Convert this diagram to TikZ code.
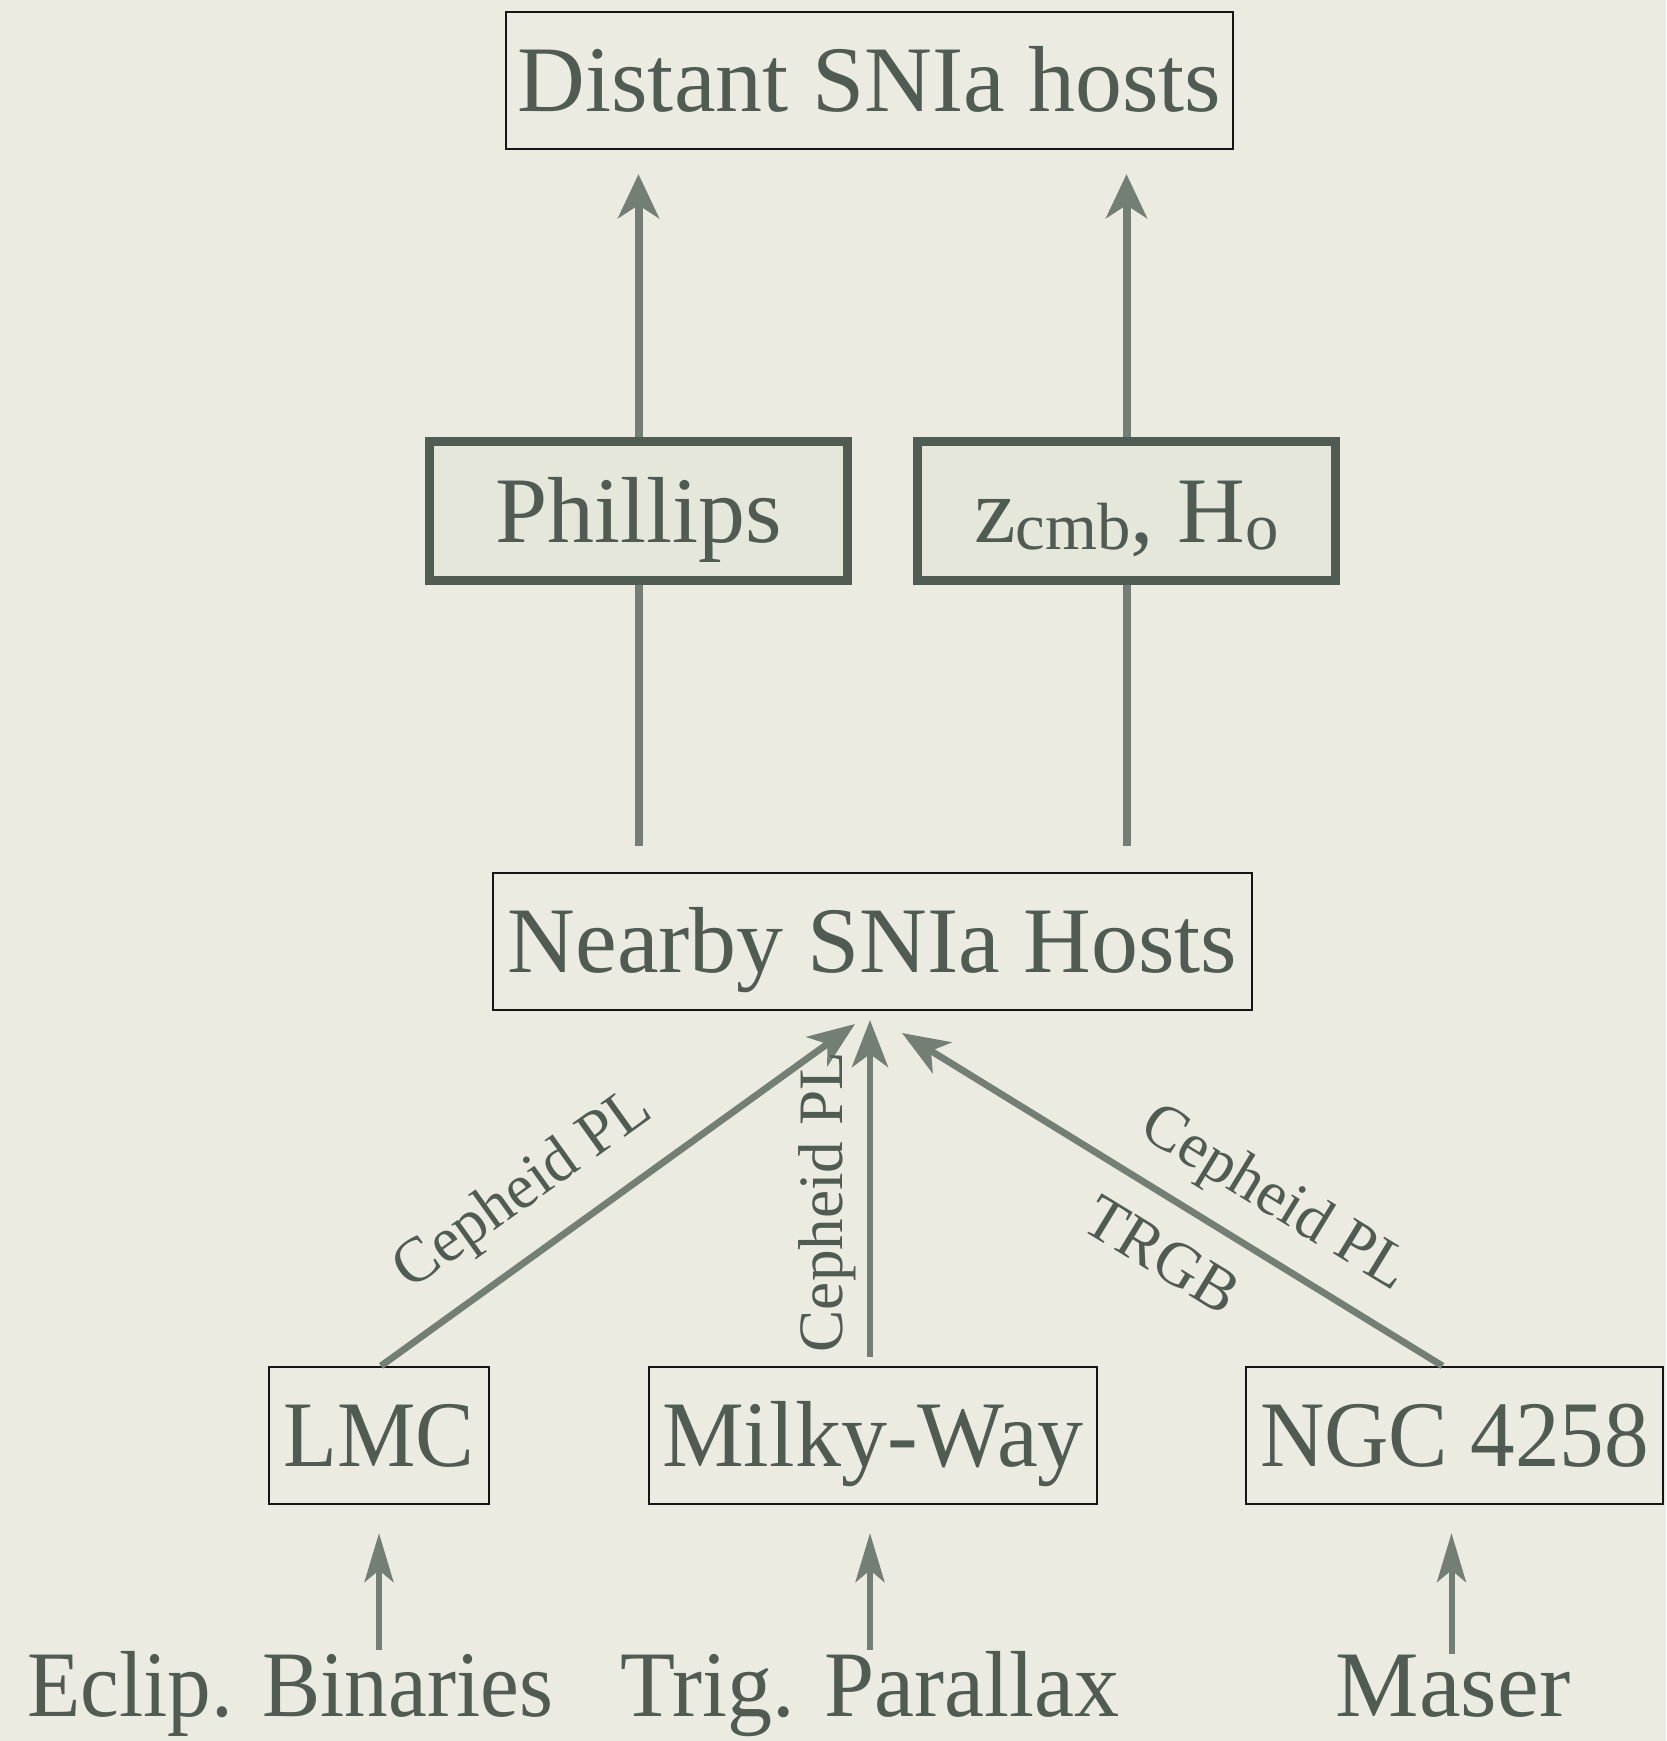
\documentclass[tikz,border=0pt]{standalone}
\usepackage{fontspec}
\setmainfont{Liberation Serif}
\usetikzlibrary{arrows.meta,calc}
\definecolor{bgc}{HTML}{ECEBE1}
\definecolor{txt}{HTML}{505C53}
\definecolor{arrc}{HTML}{737E74}
\definecolor{pfill}{HTML}{E6E7DB}
\definecolor{thinc}{HTML}{151515}
\begin{document}
\begin{tikzpicture}[x=0.1mm,y=-0.1mm,
  big/.style={font=\fontsize{26.7}{30}\selectfont, text=txt, text height=17.7pt, text depth=0pt},
  plainbox/.style={big, draw=thinc, line width=0.22mm, minimum height=13.7mm, inner sep=0pt},
  thickbox/.style={big, draw=txt, fill=pfill, line width=0.9mm, minimum width=41.8mm, minimum height=13.9mm, inner sep=0pt},
  lbl/.style={font=\fontsize{18}{20}\selectfont, text=txt, inner sep=0pt},
  bottxt/.style={font=\fontsize{26.7}{30}\selectfont, text=txt, inner sep=0pt, anchor=base},
  toparr/.style={draw=arrc, line width=0.8mm, -{Stealth[length=4.4mm,width=4.1mm,inset=1.3mm]}},
  topline/.style={draw=arrc, line width=0.8mm},
  midarr/.style={draw=arrc, line width=0.68mm, -{Stealth[length=4.7mm,width=3.6mm,inset=1.3mm]}},
  botarr/.style={draw=arrc, line width=0.6mm, -{Stealth[length=4.9mm,width=2.9mm,inset=1.2mm]}},
]
\useasboundingbox (0,0) rectangle (1666,1741);
\fill[bgc] (0,0) rectangle (1666,1741);

% boxes
\node[plainbox, minimum width=72.7mm] (dist) at (869.5,80.5) {Distant SNIa hosts};
\node[thickbox] (phil) at (638.5,511) {Phillips};
\node[thickbox] (zcmb) at (1126.5,511) {z\raisebox{-2.2pt}{\fontsize{19}{20}\selectfont cmb}, H\raisebox{-2.2pt}{\fontsize{19}{20}\selectfont o}};
\node[plainbox, minimum width=75.9mm] (near) at (872.5,941.5) {Nearby SNIa Hosts};
\node[plainbox, minimum width=22mm] (lmc) at (379,1435.5) {\scalebox{0.94}[1]{LMC}};
\node[plainbox, minimum width=44.8mm] (mw) at (873,1435.5) {\scalebox{0.98}[1]{Milky-Way}};
\node[plainbox, minimum width=41.7mm] (ngc) at (1454.5,1435.5) {\scalebox{0.95}[1]{NGC 4258}};

% bottom labels
\node[bottxt, xscale=0.93] (eb) at (290,1716) {Eclip. Binaries};
\node[bottxt, xscale=0.96] (tp) at (870,1716) {Trig. Parallax};
\node[bottxt] (ms) at (1453,1716) {Maser};

% top connectors
\draw[topline, shorten <=2.6mm] (phil.south |- near.north) -- (phil.south);
\draw[topline, shorten <=2.6mm] (zcmb.south |- near.north) -- (zcmb.south);
\draw[toparr, shorten >=2.4mm] (phil.north) -- (phil.north |- dist.south);
\draw[toparr, shorten >=2.4mm] (zcmb.north) -- (zcmb.north |- dist.south);

% middle connectors
\coordinate (tipL) at (855,1024);
\coordinate (tipM) at (870,1020);
\coordinate (tipR) at (902,1033);
\draw[midarr] ([xshift=0.2mm]lmc.north) -- (tipL);
\draw[midarr, shorten <=0.9mm] (tipM |- mw.north) -- (tipM);
\draw[midarr] ([xshift=-1.2mm]ngc.north) -- (tipR);

% edge labels
\node[lbl, rotate=35.6] (l1) at (524,1191) {Cepheid PL};
\node[lbl, rotate=90] (l2) at (827,1202) {Cepheid PL};
\node[lbl, rotate=-31.4] (l3) at (1274,1200) {Cepheid PL};
\node[lbl, rotate=-31.4] (l4) at (1162,1255) {TRGB};

% bottom connectors
\draw[botarr, shorten >=2.8mm] (lmc.south |- eb.north) -- (lmc.south);
\draw[botarr, shorten >=2.8mm] (tipM |- tp.north) -- (tipM |- mw.south);
\draw[botarr, shorten >=2.8mm] ([xshift=-0.3mm]ngc.south |- ms.north) -- ([xshift=-0.3mm]ngc.south);
\end{tikzpicture}
\end{document}
